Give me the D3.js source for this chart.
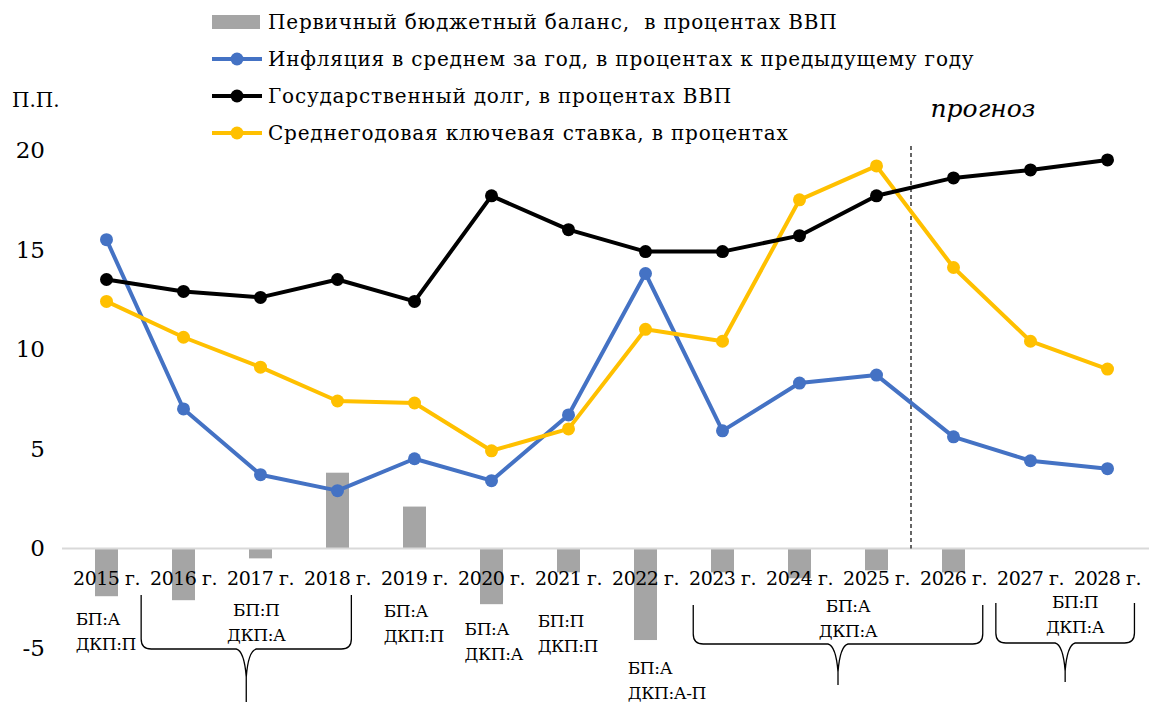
<!DOCTYPE html>
<html>
<head>
<meta charset="utf-8">
<script src="https://cdn.jsdelivr.net/npm/d3@7"></script>
<style>
  body { margin: 0; background: #fff; }
</style>
</head>
<body>
<script>
// ---- data ----
var years = ["2015", "2016", "2017", "2018", "2019", "2020", "2021",
             "2022", "2023", "2024", "2025", "2026", "2027", "2028"];
var budget = [-2.4, -2.6, -0.5, 3.8, 2.1, -2.8, -1.2, -4.6, -1.2, -1.5, -1.1, -1.2, 0, 0];
var inflation = [15.5, 7.0, 3.7, 2.9, 4.5, 3.4, 6.7, 13.8, 5.9, 8.3, 8.7, 5.6, 4.4, 4.0];
var debt = [13.5, 12.9, 12.6, 13.5, 12.4, 17.7, 16.0, 14.9, 14.9, 15.7, 17.7, 18.6, 19.0, 19.5];
var keyRate = [12.4, 10.6, 9.1, 7.4, 7.3, 4.9, 6.0, 11.0, 10.4, 17.5, 19.2, 14.1, 10.4, 9.0];
var yTicks = [-5, 0, 5, 10, 15, 20];

var legendNames = [
  "Первичный бюджетный баланс,  в процентах ВВП",
  "Инфляция в среднем за год, в процентах к предыдущему году",
  "Государственный долг, в процентах ВВП",
  "Среднегодовая ключевая ставка, в процентах"
];
var colors = ["#a5a5a5", "#4472c4", "#000000", "#ffc000"];

// single-year notes: position in category index units, lines of text
var notes = [
  {at: -0.4, lines: ["БП:А", "ДКП:П"]},
  {at: 3.6, lines: ["БП:А", "ДКП:П"]},
  {at: 4.65, lines: ["БП:А", "ДКП:А"]},
  {at: 5.6, lines: ["БП:П", "ДКП:П"]},
  {at: 6.77, lines: ["БП:А", "ДКП:А-П"]}
];
var noteBaseline = [625, 617, 635, 627, 674];
// grouped notes with braces
var braces = [
  {from: 0.45, to: 3.18, lines: ["БП:П", "ДКП:А"]},
  {from: 7.62, to: 11.38, lines: ["БП:А", "ДКП:А"]},
  {from: 11.55, to: 13.35, lines: ["БП:П", "ДКП:А"]}
];

// ---- layout ----
var width = 1149, height = 704;
var svg = d3.select("body").append("svg")
  .attr("width", width)
  .attr("height", height)
  .style("font-family", "'DejaVu Serif', serif");

var x = d3.scaleBand().domain(years).range([68, 1146]).padding(0);
var y = d3.scaleLinear().domain([-5, 20]).range([648, 150]);
var xc = function(d) { return x(d) + x.bandwidth() / 2; };
var xi = d3.scaleLinear().domain([0, 13]).range([xc(years[0]), xc(years[13])]);

// y tick labels
svg.append("g").selectAll("text")
  .data(yTicks)
  .enter().append("text")
  .attr("x", 45)
  .attr("y", function(d) { return y(d) + 8; })
  .attr("text-anchor", "end")
  .attr("font-size", "23px")
  .text(function(d) { return d; });

svg.append("text")
  .attr("x", 12).attr("y", 107)
  .attr("font-size", "20px")
  .text("П.П.");

// bars
var barW = 23;
svg.append("g").selectAll("rect")
  .data(years.map(function(d, i) { return {year: d, v: budget[i]}; })
    .filter(function(d) { return d.v !== 0; }))
  .enter().append("rect")
  .attr("x", function(d) { return xc(d.year) - barW / 2; })
  .attr("y", function(d) { return y(Math.max(0, d.v)); })
  .attr("width", barW)
  .attr("height", function(d) { return Math.abs(y(d.v) - y(0)); })
  .attr("fill", colors[0]);

// zero line
svg.append("line")
  .attr("x1", 62).attr("x2", 1150)
  .attr("y1", y(0)).attr("y2", y(0))
  .attr("stroke", "#d9d9d9")
  .attr("stroke-width", 2);

// forecast divider
svg.append("line")
  .attr("x1", x("2026") - 4).attr("x2", x("2026") - 4)
  .attr("y1", 146).attr("y2", y(0))
  .attr("stroke", "#000")
  .attr("stroke-width", 1.2)
  .attr("stroke-dasharray", "4,3");

svg.append("text")
  .attr("x", 983).attr("y", 117)
  .attr("text-anchor", "middle")
  .attr("font-size", "25px")
  .attr("font-style", "italic")
  .text("прогноз");

// x category labels
svg.append("g").selectAll("text")
  .data(years)
  .enter().append("text")
  .attr("x", xc)
  .attr("y", 585)
  .attr("text-anchor", "middle")
  .attr("font-size", "19px")
  .attr("letter-spacing", "-0.5px")
  .text(function(d) { return d + " г."; });

// lines
var line = d3.line()
  .x(function(d, i) { return xc(years[i]); })
  .y(function(d) { return y(d); });

function drawSeries(vals, col) {
  var g = svg.append("g");
  g.append("path")
    .attr("d", line(vals))
    .attr("fill", "none")
    .attr("stroke", col)
    .attr("stroke-width", 4)
    .attr("stroke-linejoin", "round");
  g.selectAll("circle")
    .data(vals)
    .enter().append("circle")
    .attr("cx", function(d, i) { return xc(years[i]); })
    .attr("cy", function(d) { return y(d); })
    .attr("r", 6.5)
    .attr("fill", col);
}
drawSeries(inflation, colors[1]);
drawSeries(keyRate, colors[3]);
drawSeries(debt, colors[2]);

// legend
var leg = svg.append("g");
legendNames.forEach(function(name, i) {
  var ly = 22 + i * 37;
  if (i == 0) {
    leg.append("rect")
      .attr("x", 212).attr("y", ly - 7)
      .attr("width", 48).attr("height", 14)
      .attr("fill", colors[0]);
  } else {
    leg.append("line")
      .attr("x1", 212).attr("x2", 262)
      .attr("y1", ly).attr("y2", ly)
      .attr("stroke", colors[i])
      .attr("stroke-width", 4);
    leg.append("circle")
      .attr("cx", 237).attr("cy", ly)
      .attr("r", 6.5)
      .attr("fill", colors[i]);
  }
  leg.append("text")
    .attr("x", 268).attr("y", ly + 7)
    .attr("font-size", "20px")
    .attr("letter-spacing", "0.8px")
    .style("white-space", "pre")
    .text(name);
});

// single notes below axis
notes.forEach(function(n, k) {
  n.lines.forEach(function(t, j) {
    svg.append("text")
      .attr("x", xi(n.at))
      .attr("y", noteBaseline[k] + j * 25)
      .attr("font-size", "17px")
      .attr("letter-spacing", "-0.4px")
      .text(t);
  });
});

// braces with notes
function bracePath(x0, x1, top, h, bottom) {
  var cx = (x0 + x1) / 2, r = 10;
  return "M" + x0 + "," + top +
    "L" + x0 + "," + (h - r) +
    "Q" + x0 + "," + h + " " + (x0 + r) + "," + h +
    "L" + (cx - 10) + "," + h +
    "Q" + (cx - 2) + "," + (h + 2) + " " + cx + "," + (h + 28) +
    "L" + cx + "," + bottom +
    "M" + x1 + "," + top +
    "L" + x1 + "," + (h - r) +
    "Q" + x1 + "," + h + " " + (x1 - r) + "," + h +
    "L" + (cx + 10) + "," + h +
    "Q" + (cx + 2) + "," + (h + 2) + " " + cx + "," + (h + 28);
}
var braceTop = [595, 605, 603], braceH = [649, 644, 643], braceBottom = [702, 685, 682];
var braceText = [616, 612, 608];
braces.forEach(function(b, i) {
  var x0 = xi(b.from), x1 = xi(b.to);
  svg.append("path")
    .attr("d", bracePath(x0, x1, braceTop[i], braceH[i], braceBottom[i]))
    .attr("fill", "none")
    .attr("stroke", "#000")
    .attr("stroke-width", 1.3);
  b.lines.forEach(function(t, j) {
    svg.append("text")
      .attr("x", (x0 + x1) / 2 + 10)
      .attr("y", braceText[i] + j * 25)
      .attr("text-anchor", "middle")
      .attr("font-size", "17px")
      .attr("letter-spacing", "-0.4px")
      .text(t);
  });
});
</script>
</body>
</html>
